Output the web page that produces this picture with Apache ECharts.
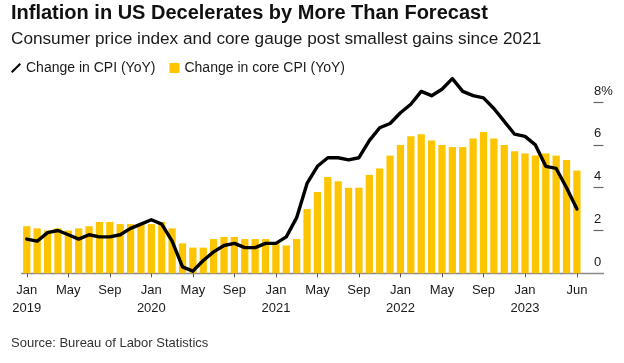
<!DOCTYPE html>
<html>
<head>
<meta charset="utf-8">
<script src="https://cdn.jsdelivr.net/npm/echarts@6/dist/echarts.min.js"></script>
<style>
html,body{margin:0;padding:0;background:#fff;}
#chart{width:624px;height:363px;}
</style>
</head>
<body>
<div id="chart"></div>
<script>
// Monthly categories Jan 2019 .. Jun 2023
const years = ['2019','2020','2021','2022','2023'];
const monthNums = ['01','02','03','04','05','06','07','08','09','10','11','12'];
const months = [];
years.forEach(y => monthNums.forEach(m => { if (!(y === '2023' && +m > 6)) months.push(y + '-' + m); }));

// Change in CPI (YoY), %
const cpi = [
  1.6, 1.5, 1.9, 2.0, 1.8, 1.6, 1.8, 1.7, 1.7, 1.8, 2.1, 2.3,
  2.5, 2.3, 1.5, 0.3, 0.1, 0.6, 1.0, 1.3, 1.4, 1.2, 1.2, 1.4,
  1.4, 1.7, 2.6, 4.2, 5.0, 5.4, 5.4, 5.3, 5.4, 6.2, 6.8, 7.0,
  7.5, 7.9, 8.5, 8.3, 8.6, 9.1, 8.5, 8.3, 8.2, 7.7, 7.1, 6.5,
  6.4, 6.0, 5.0, 4.9, 4.0, 3.0
];
// Change in core CPI (YoY), %
const core = [
  2.2, 2.1, 2.0, 2.1, 2.0, 2.1, 2.2, 2.4, 2.4, 2.3, 2.3, 2.3,
  2.3, 2.4, 2.1, 1.4, 1.2, 1.2, 1.6, 1.7, 1.7, 1.6, 1.6, 1.6,
  1.4, 1.3, 1.6, 3.0, 3.8, 4.5, 4.3, 4.0, 4.0, 4.6, 4.9, 5.5,
  6.0, 6.4, 6.5, 6.2, 6.0, 5.9, 5.9, 6.3, 6.6, 6.3, 6.0, 5.7,
  5.6, 5.5, 5.6, 5.5, 5.3, 4.8
];

// X tick labels
const xTickCats = ['2019-01','2019-05','2019-09','2020-01','2020-05','2020-09','2021-01','2021-05','2021-09','2022-01','2022-05','2022-09','2023-01','2023-06'];
const xTickText = ['Jan\n2019','May','Sep','Jan\n2020','May','Sep','Jan\n2021','May','Sep','Jan\n2022','May','Sep','Jan\n2023','Jun'];
// Y tick labels
const yTicks = [0, 2, 4, 6, 8];
const yTickText = ['0', '2', '4', '6', '8%'];

const FONT = '"Liberation Sans", Arial, Helvetica, sans-serif';
const TXT = '#1a1a1a';

const plotLeft = 21.6, plotTop = 59.3, plotH = 214, plotW = 560.5, axisRight = 603.5;
const isTick = (i) => xTickCats.indexOf(months[i]) >= 0;

const chart = echarts.init(document.getElementById('chart'), null, {renderer: 'canvas'});
chart.setOption({
  animation: false,
  backgroundColor: '#fff',
  textStyle: {fontFamily: FONT},
  title: [
    {text: 'Inflation in US Decelerates by More Than Forecast', left: 11, top: 3, padding: 0,
     textStyle: {fontFamily: FONT, fontSize: 20, fontWeight: 'bold', color: '#111'}},
    {text: 'Consumer price index and core gauge post smallest gains since 2021', left: 11, top: 31, padding: 0,
     textStyle: {fontFamily: FONT, fontSize: 17.2, fontWeight: 'normal', color: TXT}},
    {text: 'Source: Bureau of Labor Statistics', left: 11, top: 337, padding: 0,
     textStyle: {fontFamily: FONT, fontSize: 13, fontWeight: 'normal', color: '#333'}}
  ],
  legend: {
    left: 11, top: 61, padding: 0, itemGap: 14, itemWidth: 10, itemHeight: 10,
    textStyle: {fontFamily: FONT, fontSize: 14, color: TXT},
    data: [
      {name: 'Change in CPI (YoY)', icon: 'path://M0,8.6 L8.6,0 L10,1.4 L1.4,10 Z', itemStyle: {color: '#000'}},
      {name: 'Change in core CPI (YoY)', icon: 'rect'}
    ]
  },
  grid: [
    {left: plotLeft, top: plotTop, width: plotW, height: plotH},
    {left: plotLeft, top: plotTop, width: axisRight - plotLeft, height: plotH}
  ],
  xAxis: [
    {type: 'category', gridIndex: 0, data: months, boundaryGap: true,
     axisLine: {show: false},
     axisTick: {show: true, alignWithLabel: true, length: 4, interval: (i) => isTick(i), lineStyle: {color: '#555', width: 1}},
     axisLabel: {interval: (i) => isTick(i), formatter: (v) => xTickText[xTickCats.indexOf(v)],
                 fontFamily: FONT, fontSize: 13, lineHeight: 18, color: TXT, margin: 8}},
    {type: 'value', gridIndex: 1, min: 0, max: 1,
     axisLine: {show: true, onZero: false, lineStyle: {color: '#888', width: 1.3}},
     axisTick: {show: false}, axisLabel: {show: false}, splitLine: {show: false}}
  ],
  yAxis: [
    {type: 'value', gridIndex: 0, min: 0, max: 10, show: false, splitLine: {show: false}},
    {type: 'value', gridIndex: 1, min: 0, max: 10, interval: 2, position: 'right',
     axisLine: {show: false, onZero: false}, splitLine: {show: false},
     axisTick: {show: true, inside: true, length: 10, customValues: [2, 4, 6, 8], lineStyle: {color: '#666', width: 1.2}},
     axisLabel: {customValues: yTicks, formatter: (v) => yTickText[yTicks.indexOf(v)],
                 align: 'left', verticalAlign: 'bottom', margin: -9.5, padding: [0, 0, 4, 0], lineHeight: 14,
                 fontFamily: FONT, fontSize: 13, color: TXT}}
  ],
  series: [
    {name: 'Change in core CPI (YoY)', type: 'bar', xAxisIndex: 0, yAxisIndex: 0, data: core,
     barCategoryGap: '30%', itemStyle: {color: '#fdc500'}, z: 2},
    {name: 'Change in CPI (YoY)', type: 'line', xAxisIndex: 0, yAxisIndex: 0, data: cpi,
     showSymbol: false, symbol: 'none', lineStyle: {color: '#000', width: 3.4, join: 'round', cap: 'round'},
     itemStyle: {color: '#000'}, z: 3}
  ]
});
</script>
</body>
</html>
